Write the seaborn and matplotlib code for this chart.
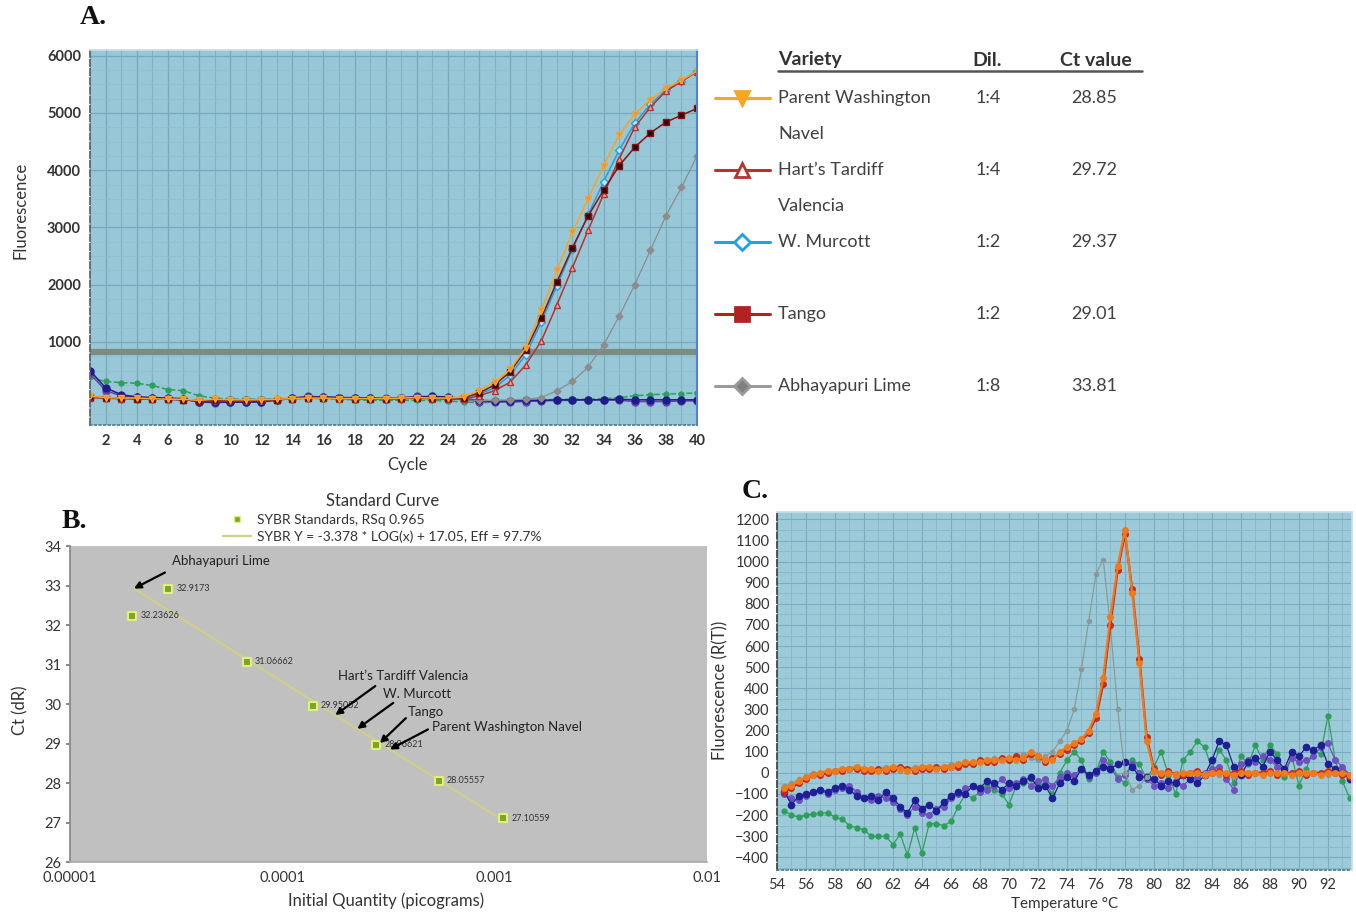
"""
three-panel qPCR figure: amplification, standard curve, melt curve
"""
import matplotlib.pyplot as plt
import numpy as np
import seaborn as sns
from matplotlib.lines import Line2D

FIG_W, FIG_H = 1356, 913

# ---------------- panel A: amplification curves ----------------
cycles = list(range(1, 41))
parent_wn = [50, 30, 20, 20, 10, 0, 0, -20, 0, -10, -10, -10, 0, 10, 20, 20,
             10, 10, 10, 10, 20, 30, 20, 20, 40, 150, 300, 520, 900, 1560,
             2250, 2920, 3500, 4080, 4620, 4980, 5230, 5430, 5570, 5730]
harts_tardiff = [30, 20, 10, 10, 0, 0, -10, -30, -20, -20, -20, -20, -10, 10,
                 20, 20, 10, 0, 0, 0, 10, 20, 10, 0, 0, 60, 150, 300, 600,
                 1020, 1650, 2300, 2950, 3580, 4200, 4750, 5100, 5380, 5550,
                 5720]
w_murcott = [40, 20, 10, 10, 0, 0, -10, -20, -10, -10, -10, -10, 0, 10, 20,
             30, 20, 10, 10, 10, 20, 30, 20, 10, 20, 90, 200, 420, 780, 1350,
             1980, 2620, 3220, 3800, 4350, 4820, 5150, 5400, 5560, 5740]
tango = [40, 30, 20, 10, 10, 0, -10, -30, -20, -20, -20, -20, -10, 10, 30, 30,
         20, 10, 10, 10, 20, 30, 30, 20, 30, 110, 250, 480, 860, 1420, 2050,
         2650, 3200, 3650, 4080, 4400, 4650, 4840, 4960, 5080]
abhayapuri = [30, 20, 10, 10, 0, 0, -10, -20, -20, -20, -20, -10, 0, 10, 20,
              20, 10, 10, 0, 0, 10, 20, 10, 0, -10, -20, -20, -10, 0, 30, 150,
              310, 560, 950, 1450, 2000, 2600, 3200, 3700, 4250]
neg_navy = [500, 200, 80, 40, 30, 20, 10, -40, -50, -50, -50, -40, -10, 20,
            40, 40, 30, 20, 20, 10, 20, 40, 50, 40, 10, -20, -30, -30, -20,
            -20, -10, -10, -10, -10, 0, -10, -10, -10, -10, -10]
neg_green = [380, 310, 290, 280, 240, 170, 150, 60, 20, 0, 0, 0, 10, 10, 20,
             10, 0, -10, -20, -20, -20, -20, -20, -30, -50, -60, -50, -40, -30,
             -20, 0, 0, 0, 10, 30, 60, 80, 90, 100, 110]
neg_purple = [450, 150, 60, 40, 20, 10, 0, -50, -60, -50, -50, -50, -20, 20,
              50, 40, 30, 30, 20, 20, 30, 50, 40, 30, 0, -40, -50, -50, -40,
              -30, -20, -20, -10, -10, -20, -40, -40, -40, -30, -30]
threshold = 830

# legend table
varieties = ["Parent Washington\nNavel", "Hart\u2019s Tardiff\nValencia",
             "W. Murcott", "Tango", "Abhayapuri Lime"]
dilutions = ["1:4", "1:4", "1:2", "1:2", "1:8"]
ct_values = [28.85, 29.72, 29.37, 29.01, 33.81]

# ---------------- panel B: standard curve ----------------
std_qty = [1.96e-5, 2.9e-5, 6.8e-5, 1.39e-4, 2.77e-4, 5.44e-4, 1.10e-3]
std_ct = [32.23626, 32.9173, 31.06662, 29.95052, 28.96621, 28.05557, 27.10559]
slope, intercept = -3.378, 17.05
fit_lo, fit_hi = 2.0e-5, 1.12e-3
arrow_names = ["Abhayapuri Lime", "Hart\u2019s Tardiff Valencia", "W. Murcott",
               "Tango", "Parent Washington Navel"]
arrow_ct = [33.81, 29.72, 29.37, 29.01, 28.85]

# ---------------- panel C: melt curves ----------------
melt_temp = np.arange(54.5, 93.75, 0.5)
melt_orange = [-70, -60, -40, -20, -10, 0, 10, 10, 20, 20,
               30, 20, 20, 10, 20, 30, 20, 10, 20, 30,
               30, 20, 30, 30, 40, 50, 50, 50, 60, 60,
               60, 70, 60, 70, 100, 80, 60, 60, 100, 120,
               140, 160, 200, 280, 450, 740, 980, 1150, 850, 520,
               150, 10, 0, 0, -10, 0, 0, 0, -10, 0,
               0, 0, -10, 0, 0, 0, -10, 0, 0, 0,
               -10, 0, 0, 0, -10, 0, 0, 0, -10]
melt_red = [-90, -70, -50, -30, -10, -10, 0, 10, 10, 20,
            20, 10, 10, 20, 10, 20, 30, 20, 10, 20,
            20, 30, 20, 30, 30, 40, 40, 60, 50, 50,
            70, 60, 80, 60, 90, 80, 50, 70, 90, 110,
            130, 150, 190, 260, 420, 700, 960, 1130, 870, 540,
            170, 20, -10, 10, -10, -10, 0, 10, -10, 0,
            10, -10, 0, 10, -10, 0, 0, 10, -10, 0,
            0, 10, -10, 0, 0, 10, 0, -10, -20]
melt_lime = [-60, -50, -30, -20, 0, 0, 10, 10, 20, 20,
             20, 10, 20, 20, 30, 20, 10, 20, 30, 30,
             20, 30, 30, 40, 40, 50, 50, 60, 60, 70,
             70, 60, 70, 90, 70, 60, 80, 100, 150, 200,
             300, 490, 720, 940, 1010, 690, 300, 0, -80, -60,
             -20, 0, -10, 0, 0, -10, 0, 0, 0, 0,
             -10, 0, 0, 0, -10, 0, 0, 0, -10, 0,
             0, 0, -10, 0, 0, -10, 0, 0, -10]
melt_navy = [-90, -150, -110, -100, -90, -80, -90, -70, -60, -80,
             -110, -120, -110, -130, -90, -120, -160, -190, -130, -170,
             -150, -180, -140, -110, -90, -100, -60, -70, -40, -50,
             -80, -50, -60, -40, -20, -70, -60, -120, -50, -20,
             -40, 20, -10, 10, 30, 20, 40, 50, 30, -20,
             -20, -30, -60, -40, -50, -10, -30, -50, -10, 60,
             150, 130, 30, -10, 50, 70, 30, 100, 60, 20,
             100, 80, 120, 110, 130, 40, 20, 0, -30]
melt_purple = [-100, -120, -130, -110, -90, -80, -100, -80, -70, -60,
               -90, -120, -130, -110, -120, -140, -170, -200, -160, -190,
               -200, -170, -160, -120, -100, -70, -60, -90, -80, -60,
               -30, -70, -50, -30, -60, -40, -30, -60, -20, 0,
               -10, 20, -20, 0, 60, 30, -30, -10, 40, 0,
               -30, -60, -50, -70, -40, -60, -30, -20, 0, 20,
               30, -30, -80, 40, 60, 50, 80, 60, 30, 10,
               70, 50, 60, 80, 120, 140, 60, 30, -10]
melt_green = [-180, -200, -210, -200, -195, -190, -190, -210, -220, -250,
              -260, -270, -300, -300, -300, -340, -290, -390, -260, -380,
              -240, -240, -250, -230, -160, -100, -120, -90, -60, -80,
              -100, -150, -60, -50, -30, -60, -50, -100, 0, 60,
              100, 60, -30, 0, 100, 50, -20, -50, 60, 40,
              -30, 30, 100, -10, -100, 60, 100, 150, 120, 20,
              110, 60, -50, 80, 40, 130, 60, 130, 90, -20,
              80, -60, 20, 100, 90, 270, 60, -40, -120]


def fx(x):
    return x / FIG_W


def fy(y):
    return 1 - y / FIG_H


def curve(ax, x, y, color, marker, ms=4.5, face=None, lw=1.1, ls="-", z=2):
    sns.lineplot(x=x, y=y, ax=ax, color=color, marker=marker, markersize=ms,
                 markerfacecolor=face if face else color,
                 markeredgecolor=color, markeredgewidth=1.0, linewidth=lw,
                 linestyle=ls, zorder=z)


sns.set_theme(style="white")
plt.rcParams["font.family"] = ["Lato", "DejaVu Sans"]
fig = plt.figure(figsize=(FIG_W / 100, FIG_H / 100), dpi=100)

# ---------------- A ----------------
axA = fig.add_axes([fx(90), fy(425), (697 - 90) / FIG_W, (425 - 50) / FIG_H])
axA.set_facecolor("#98c7d7")
axA.set_xlim(1.17, 40)
axA.set_ylim(-450, 6100)
axA.set_xticks(range(2, 41, 2))
axA.set_yticks(range(1000, 6001, 1000))
axA.set_xticks(range(1, 41), minor=True)
axA.set_yticks(range(-250, 6001, 250), minor=True)
axA.grid(which="major", color="#76abbe", lw=0.9)
axA.grid(which="minor", axis="x", color="#80b2c4", lw=0.8)
axA.grid(which="minor", axis="y", color="#8fbece", lw=0.5)
axA.axhline(threshold, color="#7b8c84", lw=4.5, zorder=1.5)

curve(axA, cycles, neg_green, "#2e9e5b", "o", ms=3.5, ls="--")
curve(axA, cycles, neg_purple, "#6f3fa8", "o", ms=5)
curve(axA, cycles, neg_navy, "#1c1c8c", "o", ms=5)
curve(axA, cycles, abhayapuri, "#8c8c8c", "D", ms=3.5, lw=0.9)
curve(axA, cycles, w_murcott, "#1fa3e0", "D", ms=4, face="#bfe6f5")
curve(axA, cycles, harts_tardiff, "#b83232", "^", ms=5, face="#e8a0a0")
curve(axA, cycles, tango, "#8e1010", "s", ms=4.5, face="#2a0a0a")
curve(axA, cycles, parent_wn, "#f5a623", "v", ms=5, face="#f08a50")

axA.set_xlabel("Cycle", fontsize=12, color="#333333")
axA.set_ylabel("Fluorescence", fontsize=12, color="#333333")
axA.xaxis.set_label_coords((408 - 90) / 607, -0.085)
axA.yaxis.set_label_coords(-0.102, (425 - 210) / 375)
axA.tick_params(axis="both", labelsize=10.5, labelcolor="#333333", length=3,
                color="#555555")
axA.tick_params(which="minor", length=0)
for lab in axA.get_xticklabels() + axA.get_yticklabels():
    lab.set_fontweight("bold")
axA.spines["left"].set_color("#606060")
axA.spines["left"].set_linestyle("--")
axA.spines["right"].set_color("#4f7fe0")
axA.spines["right"].set_linewidth(1.5)
axA.spines["top"].set_color("#c8dde5")
axA.spines["bottom"].set_color("#4f7f8f")
axA.spines["bottom"].set_linestyle(":")

# legend table
fig.text(fx(778), fy(60), "Variety", fontsize=14, fontweight="bold",
         color="#333333", va="center")
fig.text(fx(972), fy(60), "Dil.", fontsize=14, fontweight="bold",
         color="#333333", va="center")
fig.text(fx(1060), fy(60), "Ct value", fontsize=14, fontweight="bold",
         color="#333333", va="center")
fig.add_artist(Line2D([fx(778), fx(1142)], [fy(71), fy(71)], color="#555555",
                      lw=1.8, transform=fig.transFigure))
table_styles = [("#f5a623", "v", "#f5a623"), ("#b83232", "^", "white"),
                ("#1fa3e0", "D", "white"), ("#b22222", "s", "#b22222"),
                ("#9a9a9a", "D", "#808080")]
for i, name in enumerate(varieties):
    row_y = 98 + 72 * i
    for j, line in enumerate(name.split("\n")):
        fig.text(fx(778), fy(row_y + 36 * j), line, fontsize=13,
                 color="#404040", va="center")
    fig.text(fx(988), fy(row_y), dilutions[i], fontsize=13, color="#404040",
             va="center", ha="center")
    fig.text(fx(1094), fy(row_y), f"{ct_values[i]:.2f}", fontsize=13,
             color="#404040", va="center", ha="center")
    col, mk, face = table_styles[i]
    fig.add_artist(Line2D([fx(715), fx(770)], [fy(row_y), fy(row_y)],
                          color=col, lw=2.2, transform=fig.transFigure))
    fig.add_artist(Line2D([fx(742)], [fy(row_y)], color=col, marker=mk,
                          markersize=10 if mk != "D" else 8,
                          markerfacecolor=face, markeredgecolor=col,
                          markeredgewidth=2, transform=fig.transFigure))

# ---------------- B ----------------
axB = fig.add_axes([fx(70), fy(862), (707 - 70) / FIG_W, (862 - 546) / FIG_H])
axB.set_facecolor("#c0c0c0")
axB.set_xscale("log")
axB.set_xlim(1e-5, 1e-2)
axB.set_ylim(26, 34)
fit_q = np.logspace(np.log10(fit_lo), np.log10(fit_hi), 40)
sns.lineplot(x=fit_q, y=slope * np.log10(fit_q) + intercept, ax=axB,
             color="#cfcf8a", lw=1.6, zorder=2)
sns.scatterplot(x=std_qty, y=std_ct, ax=axB, marker="s", s=28,
                color="#7ea32a", edgecolor="#e2f07a", linewidth=1.5, zorder=3)
for q, ct in zip(std_qty, std_ct):
    axB.annotate(f"{ct}", (q, ct), xytext=(6, 0), textcoords="offset points",
                 fontsize=6.5, va="center", color="#333333")

tail_off = [(31, 16), (40, 29), (36, 26), (26, 25), (38, 20)]
text_off = [(38, 28), (3, 39), (26, 35), (28, 31), (42, 22)]
for name, ct, tail, toff in zip(arrow_names, arrow_ct, tail_off, text_off):
    q = max(10 ** ((intercept - ct) / -slope), fit_lo)
    tip_y = slope * np.log10(q) + intercept
    axB.annotate("", xy=(q, tip_y), xytext=tail, textcoords="offset pixels",
                 arrowprops=dict(arrowstyle="-|>", color="black", lw=1.6,
                                 mutation_scale=10, shrinkA=0, shrinkB=0))
    axB.annotate(name, (q, tip_y), xytext=toff, textcoords="offset pixels",
                 fontsize=9.5, va="center", ha="left", color="#222222")

handles = [Line2D([], [], marker="s", ls="", color="#7ea32a", markersize=4,
                  markeredgecolor="#e2f07a"),
           Line2D([], [], color="#cfcf8a", lw=1.6)]
labels = ["SYBR Standards, RSq 0.965",
          "SYBR Y = -3.378 * LOG(x) + 17.05, Eff = 97.7%"]
leg = axB.legend(handles, labels, loc="lower center",
                 bbox_to_anchor=(0.49, 1.0), frameon=False, fontsize=10,
                 title="Standard Curve", title_fontsize=12, handlelength=2,
                 labelspacing=0.35, borderaxespad=0.1, handletextpad=0.4,
                 borderpad=0.1)
for t in leg.get_texts():
    t.set_color("#333333")
leg.get_title().set_color("#333333")

axB.set_xticks([1e-5, 1e-4, 1e-3, 1e-2])
axB.set_xticklabels(["0.00001", "0.0001", "0.001", "0.01"])
axB.minorticks_off()
axB.set_yticks(range(26, 35))
axB.tick_params(axis="both", labelsize=10.5, labelcolor="#333333", length=3,
                color="#777777", left=True, bottom=False)
axB.set_xlabel("Initial Quantity (picograms)", fontsize=12, color="#333333")
axB.set_ylabel("Ct (dR)", fontsize=12, color="#333333")
axB.xaxis.set_label_coords((386 - 70) / 637, -0.095)
axB.yaxis.set_label_coords(-0.066, (862 - 710) / 316)
for side in ["top", "right"]:
    axB.spines[side].set_visible(False)
axB.spines["left"].set_color("#888888")
axB.spines["bottom"].set_color("#aaaaaa")

# ---------------- C ----------------
axC = fig.add_axes([fx(777), fy(870), (1352 - 777) / FIG_W, (870 - 512) / FIG_H])
axC.set_facecolor("#9dcad8")
axC.set_xlim(54, 93.66)
axC.set_ylim(-460, 1235)
axC.set_xticks(range(54, 93, 2))
axC.set_yticks(range(-400, 1201, 100))
axC.set_xticks(range(54, 94), minor=True)
axC.set_yticks(range(-450, 1201, 50), minor=True)
axC.grid(which="major", color="#78acbe", lw=0.8)
axC.grid(which="minor", color="#86b8c8", lw=0.6)

curve(axC, melt_temp, melt_green, "#2e9e5b", "o", ms=3.5, lw=0.9)
curve(axC, melt_temp, melt_purple, "#7050c0", "o", ms=4, lw=0.9)
curve(axC, melt_temp, melt_navy, "#1e1e96", "o", ms=4.5, lw=0.9)
curve(axC, melt_temp, melt_lime, "#8a9a9a", "o", ms=3, lw=0.9)
curve(axC, melt_temp, melt_red, "#c8281e", "o", ms=4, lw=1.6)
curve(axC, melt_temp, melt_orange, "#f07a1a", "o", ms=4, lw=1.6)

axC.set_xlabel("Temperature \u00b0C", fontsize=11, color="#333333")
axC.set_ylabel("Fluorescence (R(T))", fontsize=12, color="#333333")
axC.xaxis.set_label_coords(0.5, -0.075)
axC.yaxis.set_label_coords(-0.085, 0.503)
axC.tick_params(axis="both", labelsize=10.5, labelcolor="#333333", length=2,
                color="#555555")
axC.tick_params(which="minor", length=0)
axC.spines["left"].set_color("#404040")
axC.spines["left"].set_linestyle("--")
axC.spines["bottom"].set_color("#4f7f8f")
axC.spines["bottom"].set_linestyle(":")
axC.spines["top"].set_color("#c8dde5")
axC.spines["right"].set_color("#c8dde5")

# panel letters
for letter, (px, py) in zip(["A.", "B.", "C."],
                            [(80, 18), (62, 521), (742, 491)]):
    fig.text(fx(px), fy(py), letter, fontsize=20, fontweight="bold",
             family="Liberation Serif", va="center", color="#111111")

fig.savefig("out.png", dpi=100)
